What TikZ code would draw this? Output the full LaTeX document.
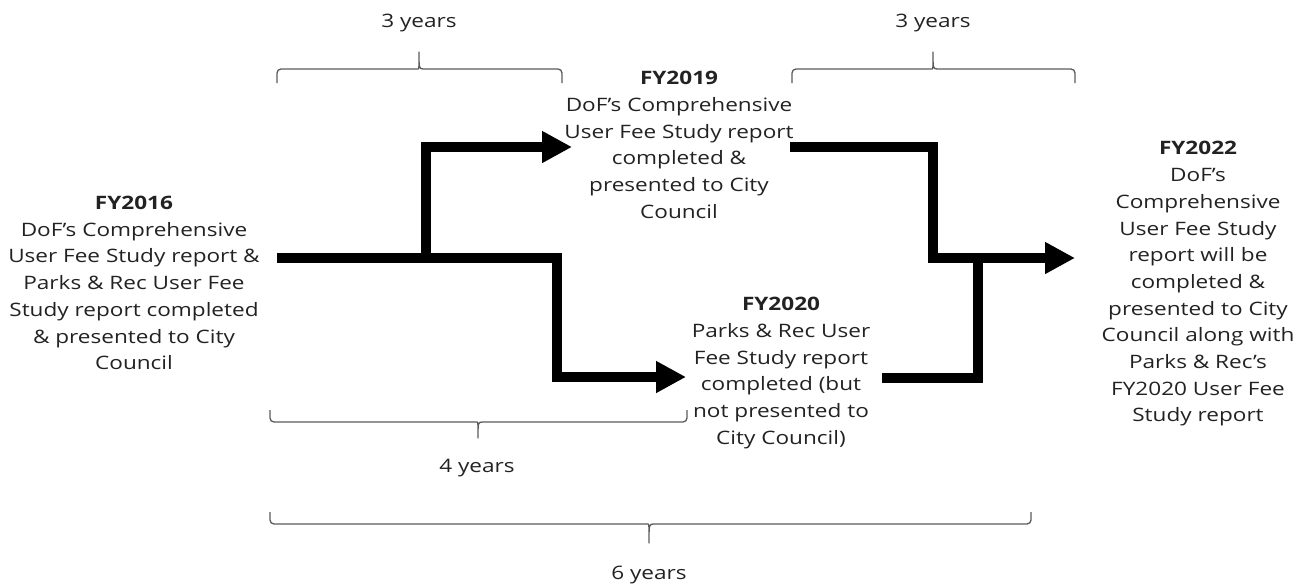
\documentclass[tikz,border=0pt]{standalone}
\usepackage{fontspec}
\setmainfont{Open Sans}[FakeStretch=1.22]
\usetikzlibrary{arrows.meta}
\definecolor{txt}{HTML}{222222}
\definecolor{brc}{HTML}{5A5A5A}
\begin{document}
\begin{tikzpicture}[x=1pt,y=-1pt,
  lbl/.style={text=txt, font=\fontsize{18.5}{26.7}\selectfont, align=center, inner sep=0pt},
  flow/.style={draw=black, line width=10pt, line join=miter},
  arr/.style={flow, -{Triangle[length=30pt,width=30pt]}},
  bracket/.style={draw=brc, line width=1.3pt, line join=round, rounded corners=4pt}]
\useasboundingbox (0,0) rectangle (1306,587);

% text nodes
\node[lbl] (fy16) at (134,283) {\textbf{FY2016}\\DoF’s Comprehensive\\User Fee Study report \&\\Parks \& Rec User Fee\\Study report completed\\\& presented to City\\Council};
\node[lbl] (fy19) at (679,145) {\textbf{FY2019}\\DoF’s Comprehensive\\User Fee Study report\\completed \&\\presented to City\\Council};
\node[lbl] (fy20) at (781,373) {\textbf{FY2020}\\Parks \& Rec User\\Fee Study report\\completed (but\\not presented to\\City Council)};
\node[lbl] (fy22) at (1198,284) {\textbf{FY2022}\\DoF’s\\Comprehensive\\User Fee Study\\report will be\\completed \&\\presented to City\\Council along with\\Parks \& Rec’s\\FY2020 User Fee\\Study report};

\node[lbl] (y3a) at (419,23) {3 years};
\node[lbl] (y3b) at (933,23) {3 years};
\node[lbl] (y4) at (477,468) {4 years};
\node[lbl] (y6) at (649,575) {6 years};

% connector coordinates
\coordinate (s16) at (277,258);
\coordinate (j1) at (426,258);
\coordinate (j1u) at (426,147);
\coordinate (t19) at (572,147);
\coordinate (j2) at (557,258);
\coordinate (j2d) at (557,377);
\coordinate (t20) at (686,377);
\coordinate (s19) at (790,147);
\coordinate (k1) at (933,147);
\coordinate (k1d) at (933,258);
\coordinate (t22) at (1075,258);
\coordinate (s20) at (882,378);
\coordinate (k2) at (978,378);
\coordinate (k2u) at (978,258);

\draw[arr] (s16) -- (j1) -- (j1u) -- (t19);
\draw[arr] (j1) -- (j2) -- (j2d) -- (t20);
\draw[arr] (s19) -- (k1) -- (k1d) -- (t22);
\draw[flow] (s20) -- (k2) -- (k2u);

% brackets
\draw[bracket] (277,83) -- (277,69) -- (414,69) [sharp corners] .. controls (419,69) .. (419,52) .. controls (419,69) .. (424,69) [rounded corners=4pt] -- (562,69) -- (562,83);
\draw[bracket] (792,83) -- (792,69) -- (928,69) [sharp corners] .. controls (933,69) .. (933,52) .. controls (933,69) .. (938,69) [rounded corners=4pt] -- (1075,69) -- (1075,83);
\draw[bracket] (270,410) -- (270,422) -- (473,422) [sharp corners] .. controls (478,422) .. (478,438) .. controls (478,422) .. (483,422) [rounded corners=4pt] -- (687,422) -- (687,410);
\draw[bracket] (270,512) -- (270,524) -- (644,524) [sharp corners] .. controls (649,524) .. (649,543) .. controls (649,524) .. (654,524) [rounded corners=4pt] -- (1031,524) -- (1031,512);
\end{tikzpicture}
\end{document}
